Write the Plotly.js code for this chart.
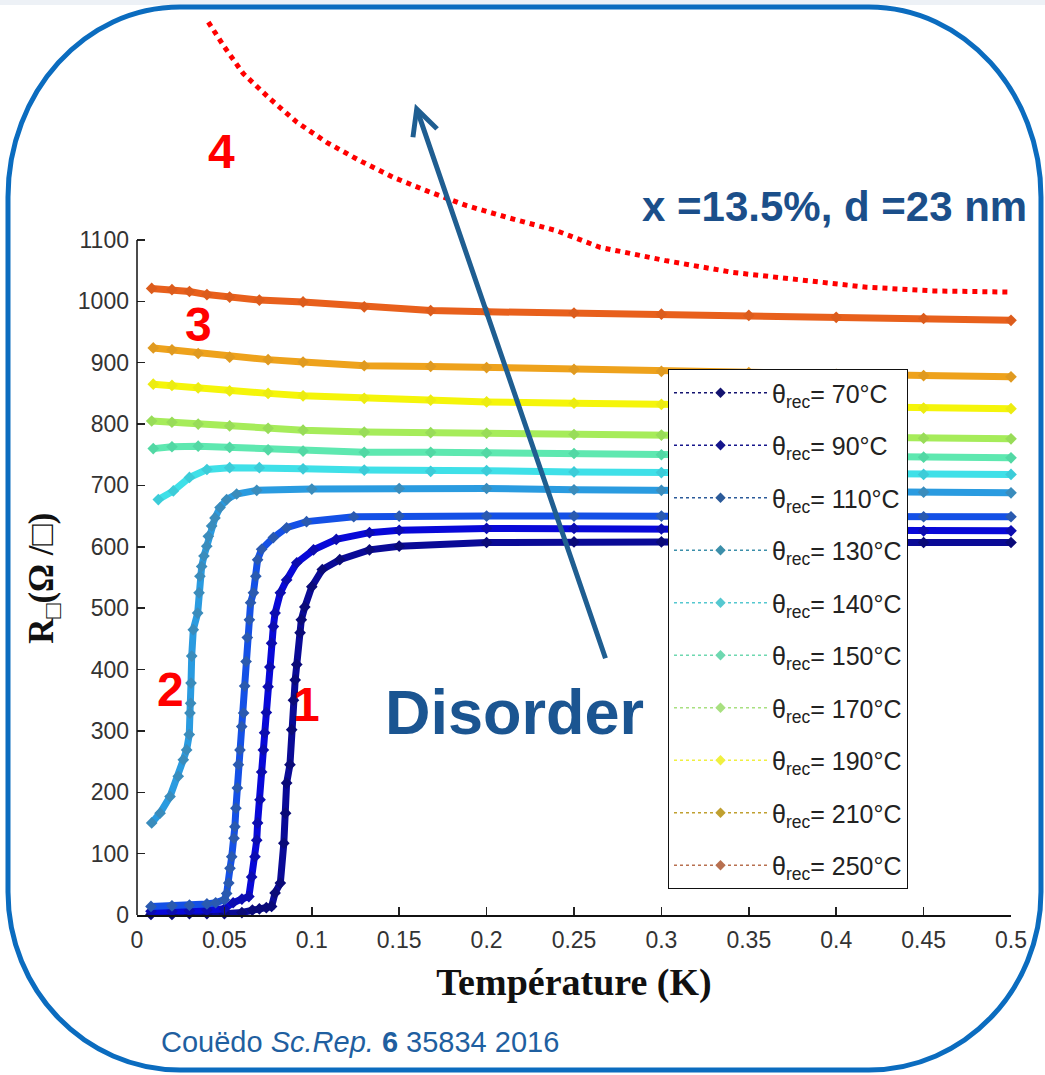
<!DOCTYPE html>
<html><head><meta charset="utf-8">
<script src="https://cdn.plot.ly/plotly-3.0.1.min.js"></script>
<style>html,body{margin:0;padding:0;background:#fff;} #chart{width:1045px;height:1075px;}</style>
</head><body><div id="chart"></div>
<script>
// ---------------- data ----------------
const legendLabels = ['70', '90', '110', '130', '140', '150', '170', '190', '210', '250'];

const T_70 = [0.008, 0.02, 0.03, 0.04, 0.05, 0.06, 0.066, 0.07, 0.074, 0.077, 0.079, 0.082, 0.084, 0.085, 0.0856, 0.0875, 0.0885, 0.0895, 0.0905, 0.0914, 0.0933, 0.094, 0.096, 0.1, 0.106, 0.116, 0.133, 0.15, 0.2, 0.25, 0.3, 0.35, 0.4, 0.45, 0.5];
const R_70 = [1, 1, 2, 2, 2, 4, 8, 10, 12, 14, 36, 52, 117, 166, 215, 245, 302, 350, 383, 408, 460, 481, 502, 535, 563, 579, 595, 601, 607, 608, 608, 607, 607, 607, 607];

const T_90 = [0.008, 0.02, 0.03, 0.04, 0.05, 0.055, 0.06, 0.064, 0.0656, 0.0675, 0.0685, 0.069, 0.0704, 0.0713, 0.0723, 0.073, 0.074, 0.075, 0.076, 0.077, 0.078, 0.079, 0.082, 0.0856, 0.0914, 0.101, 0.114, 0.133, 0.15, 0.2, 0.25, 0.3, 0.35, 0.4, 0.45, 0.5];
const R_90 = [6, 6, 7, 8, 10, 20, 26, 30, 62, 95, 122, 150, 188, 233, 269, 297, 330, 372, 404, 443, 470, 492, 525, 546, 574, 595, 612, 623, 627, 630, 630, 629, 628, 627, 626, 626];

const T_110 = [0.008, 0.02, 0.03, 0.04, 0.045, 0.05, 0.0513, 0.0525, 0.0532, 0.0542, 0.0555, 0.056, 0.0566, 0.0574, 0.058, 0.0589, 0.0599, 0.061, 0.0616, 0.0624, 0.0631, 0.0643, 0.065, 0.0666, 0.068, 0.069, 0.0713, 0.078, 0.0856, 0.097, 0.124, 0.15, 0.2, 0.25, 0.3, 0.35, 0.4, 0.45, 0.5];
const R_110 = [14, 15, 16, 18, 20, 25, 35, 52, 76, 95, 125, 144, 174, 207, 245, 269, 307, 329, 373, 413, 452, 481, 509, 525, 552, 579, 596, 615, 631, 641, 649, 650, 650, 650, 650, 649, 649, 649, 649];

const T_130 = [0.0084, 0.0132, 0.0189, 0.0236, 0.0265, 0.0284, 0.0299, 0.0303, 0.0307, 0.0309, 0.0313, 0.0322, 0.0347, 0.0355, 0.036, 0.037, 0.0383, 0.0399, 0.0408, 0.0427, 0.0446, 0.0475, 0.0513, 0.057, 0.0685, 0.1, 0.15, 0.2, 0.25, 0.3, 0.35, 0.4, 0.45, 0.5];
const R_130 = [150, 166, 193, 226, 253, 269, 294, 329, 345, 378, 422, 465, 492, 525, 552, 568, 585, 601, 617, 634, 647, 664, 677, 686, 692, 694, 695, 695, 693, 692, 691, 690, 689, 688];

const T_140 = [0.0122, 0.0208, 0.03, 0.04, 0.053, 0.07, 0.095, 0.13, 0.168, 0.2, 0.25, 0.3, 0.35, 0.4, 0.45, 0.5];
const R_140 = [677, 691, 713, 726, 729, 729, 727, 725, 723, 724, 722, 721, 720, 719, 718, 718];

const T_150 = [0.0093, 0.02, 0.035, 0.053, 0.075, 0.095, 0.13, 0.168, 0.2, 0.25, 0.3, 0.35, 0.4, 0.45, 0.5];
const R_150 = [760, 763, 764, 762, 758, 756, 754, 754, 753, 752, 750, 749, 747, 746, 745];

const T_170 = [0.0084, 0.02, 0.035, 0.053, 0.075, 0.095, 0.13, 0.168, 0.2, 0.25, 0.3, 0.35, 0.4, 0.45, 0.5];
const R_170 = [805, 803, 800, 797, 793, 790, 787, 786, 785, 783, 782, 780, 779, 777, 776];

const T_190 = [0.0093, 0.02, 0.035, 0.053, 0.075, 0.095, 0.13, 0.168, 0.2, 0.25, 0.3, 0.35, 0.4, 0.45, 0.5];
const R_190 = [865, 863, 859, 854, 850, 846, 842, 839, 836, 834, 832, 830, 828, 826, 825];

const T_210 = [0.0093, 0.02, 0.035, 0.053, 0.075, 0.095, 0.13, 0.168, 0.2, 0.25, 0.3, 0.35, 0.4, 0.45, 0.5];
const R_210 = [924, 921, 915, 909, 905, 901, 895, 894, 892, 889, 886, 884, 881, 879, 877];

const T_250 = [0.0084, 0.02, 0.03, 0.04, 0.053, 0.07, 0.095, 0.13, 0.168, 0.2, 0.25, 0.3, 0.35, 0.4, 0.45, 0.5];
const R_250 = [1021, 1019, 1016, 1011, 1007, 1002, 999, 991, 985, 983, 981, 979, 977, 974, 972, 969];

// red dotted "regime 4" curve
const curve4T = [0.0408, 0.0494, 0.0608, 0.0761, 0.0914, 0.1085, 0.1276, 0.1466, 0.1676, 0.1886, 0.2115, 0.2401, 0.2649, 0.303, 0.3411, 0.3793, 0.4174, 0.4555, 0.4994];
const curve4R = [1455, 1417, 1371, 1330, 1292, 1259, 1229, 1202, 1178, 1156, 1137, 1115, 1088, 1066, 1047, 1034, 1023, 1017, 1015];

const xTicks = [0, 0.05, 0.1, 0.15, 0.2, 0.25, 0.3, 0.35, 0.4, 0.45, 0.5];
const yTicks = [0, 100, 200, 300, 400, 500, 600, 700, 800, 900, 1000, 1100];

// ---------------- styles ----------------
const seriesT = [T_70, T_90, T_110, T_130, T_140, T_150, T_170, T_190, T_210, T_250];
const seriesR = [R_70, R_90, R_110, R_130, R_140, R_150, R_170, R_190, R_210, R_250];
const lineColors = ['#0a0a96', '#0808d8', '#1450e6', '#2a9be0', '#3fe0e8', '#5ee8b0', '#a6ec5a', '#f5f50a', '#eea21c', '#e8601c'];
const markColors = ['#0a0a78', '#0c0cb0', '#2a5ab0', '#3a8cbc', '#3cccd8', '#52d8a4', '#98dc58', '#ecec10', '#e09a20', '#dc5c1c'];
const legColors  = ['#141470', '#16168c', '#2b5a99', '#3c8faa', '#55c8d0', '#6ed8b0', '#a8e080', '#f0f040', '#c0a030', '#b87050'];

const SANS = 'Liberation Sans, Arial, sans-serif';
const SERIF = 'Liberation Serif, Times New Roman, serif';

const traces = [];
for (let i = 0; i < seriesT.length; i++) {
  traces.push({
    x: seriesT[i], y: seriesR[i], type: 'scatter', mode: 'lines+markers',
    line: {color: lineColors[i], width: 7},
    marker: {symbol: 'diamond', size: 9, color: markColors[i]},
    showlegend: false, hoverinfo: 'skip', cliponaxis: false
  });
}
traces.push({
  x: curve4T, y: curve4R, type: 'scatter', mode: 'lines',
  line: {color: '#ff0000', width: 5, dash: 'dot'}, showlegend: false, hoverinfo: 'skip'
});
for (let i = 0; i < legendLabels.length; i++) {
  traces.push({
    x: [null], y: [null], type: 'scatter', mode: 'lines+markers',
    name: 'θ<sub>rec</sub>= ' + legendLabels[i] + '°C',
    legendgroup: 'g' + i, showlegend: true,
    line: {color: legColors[i], width: 1.5, dash: 'dot'},
    marker: {symbol: 'diamond', size: 8, color: legColors[i]}
  });
}

// geometry helpers (pixel -> paper) for decorations
const ML = 137, MR = 34, MT = 8, MB = 160, W = 1045, H = 1075;
const PW = W - ML - MR, PH = H - MT - MB;
function P(px, py) { return ((px - ML) / PW).toFixed(4) + ',' + ((H - MB - py) / PH).toFixed(4); }
const k = 0.5523;
const fL = 8, fR = 1041, fT = 7, fB = 1070, rx = 172, ry = 190, rxb = 172, ryb = 178;
const framePath = 'M ' + P(fL + rx, fT) + ' L ' + P(fR - rx, fT) +
  ' C ' + P(fR - rx + k * rx, fT) + ' ' + P(fR, fT + ry - k * ry) + ' ' + P(fR, fT + ry) +
  ' L ' + P(fR, fB - ryb) +
  ' C ' + P(fR, fB - ryb + k * ryb) + ' ' + P(fR - rxb + k * rxb, fB) + ' ' + P(fR - rxb, fB) +
  ' L ' + P(fL + rxb, fB) +
  ' C ' + P(fL + rxb - k * rxb, fB) + ' ' + P(fL, fB - ryb + k * ryb) + ' ' + P(fL, fB - ryb) +
  ' L ' + P(fL, fT + ry) +
  ' C ' + P(fL, fT + ry - k * ry) + ' ' + P(fL + rx - k * rx, fT) + ' ' + P(fL + rx, fT) + ' Z';

const layout = {
  width: W, height: H,
  margin: {l: ML, r: MR, t: MT, b: MB, pad: 0},
  paper_bgcolor: '#ffffff', plot_bgcolor: 'rgba(0,0,0,0)',
  showlegend: true,
  xaxis: {
    range: [0, 0.5], tickvals: xTicks, ticks: 'inside', ticklen: 8, tickwidth: 1.5, tickcolor: '#222',
    showline: true, linecolor: '#111', linewidth: 1.5, showgrid: false, zeroline: false,
    tickfont: {family: SANS, size: 23, color: '#333'}, ticklabelstandoff: 4,
    title: {text: '<b>Température (K)</b>', font: {family: SERIF, size: 38, color: '#111'}, standoff: 16},
    fixedrange: true
  },
  yaxis: {
    range: [0, 1478], tickvals: yTicks, ticks: 'inside', ticklen: 8, tickwidth: 1.5, tickcolor: '#222',
    showline: false, showgrid: false, zeroline: false,
    tickfont: {family: SANS, size: 23, color: '#333'}, ticklabelstandoff: 7,
    fixedrange: true
  },
  legend: {
    x: (668 - ML) / PW, y: (H - MB - 369) / PH, xanchor: 'left', yanchor: 'top',
    bgcolor: '#ffffff', bordercolor: '#111', borderwidth: 1,
    font: {family: SANS, size: 25, color: '#222'},
    itemwidth: 93, tracegroupgap: 17, traceorder: 'grouped'
  },
  shapes: [
    {type: 'rect', xref: 'paper', yref: 'paper', x0: -0.2, x1: 1.1, y0: (H - MB - 0) / PH, y1: (H - MB - 5) / PH,
     fillcolor: '#edf1f6', line: {width: 0}, layer: 'below'},
    {type: 'line', xref: 'paper', yref: 'y', x0: 0, x1: 0, y0: 0, y1: 1100, line: {color: '#111', width: 1.5}},
    {type: 'path', xref: 'paper', yref: 'paper', path: framePath, line: {color: '#0b6cbf', width: 5}, fillcolor: 'rgba(0,0,0,0)'}
  ],
  annotations: [
    {xref: 'paper', yref: 'y', x: (44 - ML) / PW, y: 548, xanchor: 'center', yanchor: 'middle',
     text: '<b>R<sub>□</sub>(Ω /□)</b>', textangle: -90,
     showarrow: false, font: {family: SERIF, size: 35, color: '#111'}},
    {xref: 'x', yref: 'y', x: 0.0486, y: 1244, xanchor: 'center', yanchor: 'middle', text: '<b>4</b>', showarrow: false, font: {family: SANS, size: 48, color: '#ff0000'}},
    {xref: 'x', yref: 'y', x: 0.035, y: 963, xanchor: 'center', yanchor: 'middle', text: '<b>3</b>', showarrow: false, font: {family: SANS, size: 48, color: '#ff0000'}},
    {xref: 'x', yref: 'y', x: 0.019, y: 367, xanchor: 'center', yanchor: 'middle', text: '<b>2</b>', showarrow: false, font: {family: SANS, size: 48, color: '#ff0000'}},
    {xref: 'x', yref: 'y', x: 0.097, y: 343, xanchor: 'center', yanchor: 'middle', text: '<b>1</b>', showarrow: false, font: {family: SANS, size: 48, color: '#ff0000'}},
    {xref: 'x', yref: 'y', x: 0.3993, y: 1154, xanchor: 'center', yanchor: 'middle', text: '<b>x =13.5%, d =23 nm</b>', showarrow: false, font: {family: SANS, size: 42, color: '#1b4f8a'}},
    {xref: 'x', yref: 'y', x: 0.2162, y: 331, xanchor: 'center', yanchor: 'middle', text: '<b>Disorder</b>', showarrow: false, font: {family: SANS, size: 63, color: '#1b5591'}},
    {xref: 'x', yref: 'y', axref: 'x', ayref: 'y', x: 0.159, y: 1322, ax: 0.2683, ay: 416, text: '',
     showarrow: true, arrowhead: 5, arrowsize: 1, arrowwidth: 5, arrowcolor: '#1f5e91'},
    {xref: 'paper', yref: 'paper', x: (360 - ML) / PW, y: (H - MB - 1042) / PH, xanchor: 'center', yanchor: 'middle',
     text: 'Couëdo <i>Sc.Rep.</i> <b>6</b> 35834 2016',
     showarrow: false, font: {family: SANS, size: 29, color: '#1f5fa0'}}
  ]
};

Plotly.newPlot('chart', traces, layout, {staticPlot: true, displayModeBar: false});
</script>
</body></html>
